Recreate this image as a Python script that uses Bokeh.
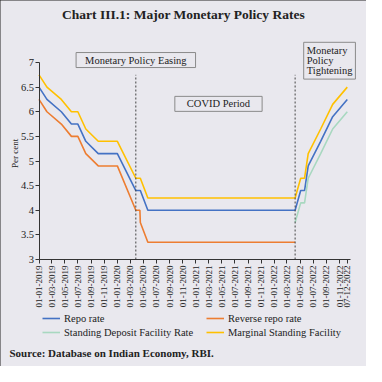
import math
import pandas as pd
from bokeh.plotting import figure
from bokeh.models import (Legend, LegendItem, Label, FixedTicker,
                          DatetimeTickFormatter, Range1d)
from bokeh.embed import file_html
from bokeh.resources import INLINE

# ---------------- data ----------------
dates_easing = ["2019-01-01", "2019-02-07", "2019-04-15", "2019-06-01", "2019-07-01",
                "2019-08-07", "2019-10-04", "2020-01-01", "2020-03-27", "2020-04-15",
                "2020-04-17", "2020-05-22", "2022-04-08"]
repo_easing = [6.50, 6.25, 6.00, 5.75, 5.75, 5.40, 5.15, 5.15, 4.40, 4.40, 4.40, 4.00, 4.00]
reverse_repo = [6.25, 6.00, 5.75, 5.50, 5.50, 5.15, 4.90, 4.90, 4.00, 4.00, 3.75, 3.35, 3.35]
msf_easing = [6.75, 6.50, 6.25, 6.00, 6.00, 5.65, 5.40, 5.40, 4.65, 4.65, 4.65, 4.25, 4.25]

dates_tight = ["2022-04-08", "2022-05-04", "2022-05-22", "2022-06-08", "2022-08-05",
               "2022-09-30", "2022-12-07"]
repo_tight = [4.00, 4.40, 4.40, 4.90, 5.40, 5.90, 6.25]
sdf_tight = [3.75, 4.15, 4.15, 4.65, 5.15, 5.65, 6.00]
msf_tight = [4.25, 4.65, 4.65, 5.15, 5.65, 6.15, 6.50]

tick_labels = ["01-01-2019", "01-03-2019", "01-05-2019", "01-07-2019", "01-09-2019",
               "01-11-2019", "01-01-2020", "01-03-2020", "01-05-2020", "01-07-2020",
               "01-09-2020", "01-11-2020", "01-01-2021", "01-03-2021", "01-05-2021",
               "01-07-2021", "01-09-2021", "01-11-2021", "01-01-2022", "01-03-2022",
               "01-05-2022", "01-07-2022", "01-09-2022", "01-11-2022", "07-12-2022"]
y_ticks = [3, 3.5, 4, 4.5, 5, 5.5, 6, 6.5, 7]
y_tick_labels = ["3", "3.5", "4", "4.5", "5", "5.5", "6", "6.5", "7"]
event_dates = ["2020-03-27", "2022-04-08"]
axis_dates = ["2019-01-01", "2022-12-22"]

series_names = ["Repo rate", "Reverse repo rate", "Standing Deposit Facility Rate",
                "Marginal Standing Facility"]
series_colors = ["#4472C4", "#ED7D31", "#A8D8C0", "#FFC000"]

BG = "#E9E8EE"
FONT = "Liberation Serif"
TXT = "#222222"


def ms(d):
    return pd.Timestamp(d).value // 10**6


# ---------------- layout: the frame fills the whole canvas ----------------
W = H = 366
AX_LEFT_PX, AX_RIGHT_PX = 38.5, 350     # canvas x of the axis start / end
AX_TOP_PX, AX_BOT_PX = 62, 259          # canvas y of the top tick (7) and the x axis (3)
x0, x1 = ms(axis_dates[0]), ms(axis_dates[1])
ppx = (x1 - x0) / (AX_RIGHT_PX - AX_LEFT_PX)
ppu = (AX_BOT_PX - AX_TOP_PX) / (y_ticks[-1] - y_ticks[0])
x_range = Range1d(x0 - AX_LEFT_PX * ppx, x1 + (W - AX_RIGHT_PX) * ppx)
y_range = Range1d(y_ticks[0] - (H - AX_BOT_PX) / ppu, y_ticks[-1] + AX_TOP_PX / ppu)

p = figure(width=W, height=H, x_axis_type="datetime", x_range=x_range, y_range=y_range,
           output_backend="svg", toolbar_location=None,
           background_fill_color=BG, border_fill_color=BG,
           min_border=0, min_border_left=0, min_border_right=0, min_border_top=0,
           min_border_bottom=0)
p.styles = {"outline": "1px solid #222", "outline-offset": "-1px"}
p.title.visible = False
p.outline_line_color = None
p.xgrid.visible = False
p.ygrid.visible = False

# lines
easing_x = [ms(d) for d in dates_easing]
tight_x = [ms(d) for d in dates_tight]
r_repo = p.line(easing_x + tight_x[1:], repo_easing + repo_tight[1:],
                line_color=series_colors[0], line_width=1.6)
r_rev = p.line(easing_x, reverse_repo, line_color=series_colors[1], line_width=1.6)
r_sdf = p.line(tight_x, sdf_tight, line_color=series_colors[2], line_width=1.6)
r_msf = p.line(easing_x + tight_x[1:], msf_easing + msf_tight[1:],
               line_color=series_colors[3], line_width=1.6)

# event dashed lines
ev = [ms(d) for d in event_dates]
p.segment(x0=ev, y0=[y_ticks[0]] * len(ev), x1=ev, y1=[6.75] * len(ev),
          line_color="#444444", line_width=1, line_dash="2 2")

# axes, pinned to the data origin inside the frame
for ax in (p.xaxis[0], p.yaxis[0]):
    ax.axis_line_color = "#333333"
    ax.major_tick_line_color = "#333333"
    ax.major_tick_out = 4
    ax.major_tick_in = 0
    ax.minor_tick_line_color = None
    ax.major_label_text_font = FONT
    ax.major_label_text_color = TXT

p.xaxis.fixed_location = y_ticks[0]
p.xaxis.bounds = (x0, x1)
p.xaxis.ticker = FixedTicker(ticks=[ms(pd.to_datetime(t, format="%d-%m-%Y")) for t in tick_labels])
fmt = "%d-%m-%Y"
p.xaxis.formatter = DatetimeTickFormatter(milliseconds=fmt, seconds=fmt, minsec=fmt,
                                          minutes=fmt, hourmin=fmt, hours=fmt, days=fmt,
                                          months=fmt, years=fmt)
p.xaxis.major_label_orientation = math.pi / 2
p.xaxis.major_label_text_font_size = "9px"
p.xaxis.major_label_standoff = 2

p.yaxis.fixed_location = x0
p.yaxis.bounds = (y_ticks[0], y_ticks[-1])
p.yaxis.ticker = FixedTicker(ticks=y_ticks)
p.yaxis.major_label_overrides = {float(t): l for t, l in zip(y_ticks, y_tick_labels)}
p.yaxis.major_label_text_font_size = "10.5px"
p.yaxis.major_label_standoff = 1

# texts in screen pixels (from the bottom-left corner of the canvas)
p.add_layout(Label(x=183, y=H - 14, x_units="screen", y_units="screen",
                   text="Chart III.1: Major Monetary Policy Rates",
                   text_font=FONT, text_font_size="13.5px", text_font_style="bold",
                   text_color=TXT, text_align="center", text_baseline="middle"))
p.add_layout(Label(x=14.7, y=H - 152.8, x_units="screen", y_units="screen",
                   text="Per cent", angle=math.pi / 2,
                   text_font=FONT, text_font_size="9px", text_color=TXT,
                   text_align="center", text_baseline="middle"))
p.add_layout(Label(x=9, y=14, x_units="screen", y_units="screen",
                   text="Source: Database on Indian Economy, RBI.",
                   text_font=FONT, text_font_size="11px", text_font_style="bold",
                   text_color=TXT, text_baseline="middle"))

# annotation boxes
box_style = dict(text_font=FONT, text_font_size="10.5px", text_color=TXT,
                 border_line_color="#8A8A8A", border_line_width=1,
                 background_fill_color=BG)
p.add_layout(Label(x=ms("2020-03-27"), y=7.05, text="Monetary Policy Easing",
                   text_align="center", text_baseline="middle",
                   padding=dict(left=9, right=9, top=2, bottom=2), **box_style))
p.add_layout(Label(x=ms("2021-04-16"), y=6.16, text="COVID Period",
                   text_align="center", text_baseline="middle",
                   padding=dict(left=12, right=12, top=2, bottom=2), **box_style))
p.add_layout(Label(x=ms("2022-05-18"), y=7.41, text="Monetary\nPolicy\nTightening",
                   text_align="left", text_baseline="top", text_line_height=0.9,
                   padding=dict(left=3, right=3, top=3, bottom=3), **box_style))

# legend under the x axis (position from the frame's bottom-left corner)
legend = Legend(items=[LegendItem(label=series_names[0], renderers=[r_repo]),
                       LegendItem(label=series_names[1], renderers=[r_rev]),
                       LegendItem(label=series_names[2], renderers=[r_sdf]),
                       LegendItem(label=series_names[3], renderers=[r_msf])],
                nrows=2, orientation="horizontal", location=(42, 28),
                background_fill_alpha=0, border_line_color=None,
                label_text_font=FONT, label_text_font_size="10.5px", label_text_color=TXT,
                glyph_width=18, glyph_height=12, label_height=12, label_width=140,
                label_standoff=4, spacing=2, padding=0, margin=0)
p.add_layout(legend, "center")

open("out.html", "w").write(file_html(p, INLINE))
